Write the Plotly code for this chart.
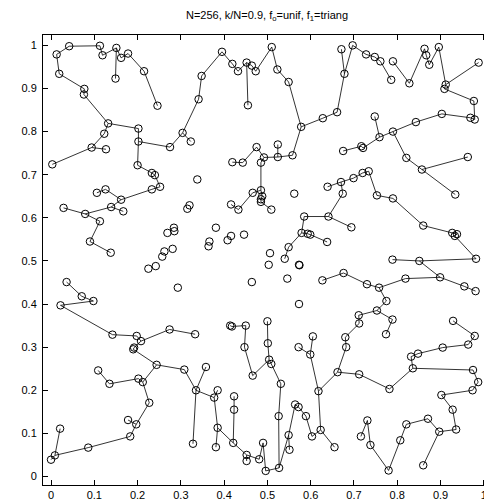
import plotly.graph_objects as go

# ---- point coordinates, grouped by region of the unit square ----
A_ids = "A1 A2 A3 A4 A5 A6 A7 A8 A9 A10 A11 A12 A13 A14 A15 A16 A17 A18 A19 A20 A21 A22 A23 A24 A25".split()
A_x = [0.042, 0.013, 0.019, 0.113, 0.119, 0.151, 0.149, 0.162, 0.178, 0.215, 0.246, 0.077, 0.076, 0.132, 0.202,
       0.202, 0.275, 0.304, 0.123, 0.094, 0.127, 0.003, 0.200, 0.233, 0.240]
A_y = [0.998, 0.979, 0.934, 0.999, 0.977, 0.994, 0.923, 0.971, 0.981, 0.940, 0.860, 0.899, 0.886, 0.819, 0.807,
       0.777, 0.764, 0.797, 0.795, 0.763, 0.759, 0.724, 0.722, 0.704, 0.699]

B_ids = "B2 B3 B4 B5 B6 B7 B8 B9 B10 B11 B12 B13 B14 B15 B16 B17 B18 B19 B20 B21 B22 B23 B24 B25".split()
B_x = [0.323, 0.341, 0.348, 0.395, 0.419, 0.432, 0.452, 0.464, 0.473, 0.455, 0.510, 0.523, 0.549, 0.578, 0.628,
       0.558, 0.524, 0.524, 0.492, 0.485, 0.475, 0.443, 0.419, 0.338]
B_y = [0.777, 0.875, 0.929, 0.985, 0.957, 0.940, 0.960, 0.953, 0.940, 0.861, 0.996, 0.944, 0.915, 0.811, 0.831,
       0.745, 0.741, 0.770, 0.740, 0.728, 0.764, 0.728, 0.729, 0.689]

C_ids = ("C1 C2 C3 C4 C5 C6 C7 C8 C9 C10 C11 C12 C13 C14 C15 C16 C17 C18 C19 C20 C21 C22 C23 C24 C25 C26 C27 "
         "C28 C29 C30 C31 C32 C33 C34 C35 C36").split()
C_x = [0.671, 0.697, 0.678, 0.728, 0.748, 0.761, 0.790, 0.786, 0.828, 0.863, 0.867, 0.874, 0.896, 0.912, 0.909,
       0.988, 0.977, 0.969, 0.979, 0.903, 0.843, 0.790, 0.759, 0.748, 0.721, 0.717, 0.675, 0.821, 0.857, 0.963,
       0.734, 0.720, 0.699, 0.670, 0.639, 0.661]
C_y = [0.991, 1.000, 0.934, 0.979, 0.973, 0.963, 0.963, 0.920, 0.912, 0.992, 0.977, 0.955, 0.996, 0.909, 0.899,
       0.960, 0.871, 0.832, 0.828, 0.841, 0.822, 0.800, 0.787, 0.835, 0.762, 0.766, 0.755, 0.739, 0.712, 0.741,
       0.708, 0.704, 0.692, 0.683, 0.672, 0.845]

D_ids = ("D2 D3 D4 D5 D6 D7 D8 D9 D10 D11 D12 D13 D14 D15 D16 D17 D19 D20 D21 D22 D23 D24 D25 D26 D27 D28").split()
D_x = [0.106, 0.126, 0.162, 0.233, 0.252, 0.029, 0.079, 0.139, 0.167, 0.113, 0.090, 0.138, 0.036, 0.071, 0.098,
       0.022, 0.269, 0.284, 0.285, 0.281, 0.262, 0.257, 0.242, 0.225, 0.293, 0.274]
D_y = [0.658, 0.666, 0.642, 0.666, 0.672, 0.623, 0.609, 0.625, 0.615, 0.592, 0.545, 0.519, 0.451, 0.418, 0.407,
       0.397, 0.565, 0.577, 0.569, 0.528, 0.522, 0.510, 0.488, 0.482, 0.438, 0.341]

E_ids = ("E2 E3 E4 E5 E6 E7 E8 E9 E10 E12 E13 E15 E16 E17 E18 E19 E20 E21 E23 E24 E25 E27 E28 E29 E30 E31 E31b "
         "E32 E33 E36 E37 E38 E39 E40").split()
E_x = [0.485, 0.466, 0.488, 0.485, 0.485, 0.509, 0.416, 0.433, 0.562, 0.320, 0.315, 0.381, 0.416, 0.408, 0.446,
       0.366, 0.364, 0.585, 0.579, 0.593, 0.599, 0.549, 0.540, 0.506, 0.503, 0.573, 0.574, 0.464, 0.546, 0.573,
       0.414, 0.418, 0.450, 0.500]
E_y = [0.664, 0.658, 0.650, 0.643, 0.637, 0.619, 0.631, 0.619, 0.656, 0.629, 0.621, 0.577, 0.558, 0.548, 0.561,
       0.545, 0.534, 0.603, 0.565, 0.563, 0.561, 0.532, 0.505, 0.518, 0.491, 0.491, 0.490, 0.451, 0.459, 0.400,
       0.350, 0.348, 0.350, 0.360]

F_ids = ("F4 F5 F6 F7 F8 F9 F10 F11 F12 F13 F14 F15 F16 F17 F18 F19 F20 F21 F22 F23 F24 F25 F26 F27 F28 F29 F30 "
         "F31").split()
F_x = [0.674, 0.641, 0.694, 0.753, 0.790, 0.860, 0.927, 0.938, 0.933, 0.934, 0.982, 0.789, 0.851, 0.899, 0.955,
       0.981, 0.819, 0.758, 0.730, 0.676, 0.627, 0.775, 0.753, 0.711, 0.712, 0.789, 0.929, 0.638]
F_y = [0.656, 0.603, 0.578, 0.652, 0.645, 0.582, 0.565, 0.562, 0.558, 0.654, 0.505, 0.503, 0.500, 0.462, 0.441,
       0.430, 0.459, 0.438, 0.446, 0.472, 0.455, 0.407, 0.385, 0.374, 0.355, 0.364, 0.361, 0.544]

G_ids = "G1 G2 G3 G4 G5 G7 G8 G9 G10 G11 G12 G13 G14 G15 G16 G17 G18 G19 G20".split()
G_x = [0.142, 0.198, 0.208, 0.192, 0.190, 0.244, 0.308, 0.109, 0.135, 0.202, 0.212, 0.227, 0.178, 0.197, 0.183,
       0.086, 0.009, 0.000, 0.021]
G_y = [0.329, 0.326, 0.314, 0.299, 0.295, 0.259, 0.248, 0.246, 0.215, 0.227, 0.219, 0.171, 0.131, 0.121, 0.093,
       0.067, 0.049, 0.039, 0.111]

H_ids = ("H1 H4 H5 H7 H8 H9 H10 H11 H12 H13 H14 H15 H16 H17 H18 H19 H20 H21 H22 H23 H24 H25 H27 H28 H29 H30 "
         "H31 H32 H33 H34 H35 H36 H37 H38 H39").split()
H_x = [0.333, 0.447, 0.466, 0.501, 0.504, 0.509, 0.531, 0.526, 0.527, 0.496, 0.490, 0.481, 0.452, 0.452, 0.421,
       0.423, 0.423, 0.385, 0.381, 0.377, 0.385, 0.335, 0.358, 0.328, 0.605, 0.572, 0.599, 0.618, 0.623, 0.603,
       0.564, 0.572, 0.589, 0.549, 0.551]
H_y = [0.330, 0.300, 0.234, 0.309, 0.271, 0.261, 0.215, 0.140, 0.020, 0.013, 0.078, 0.040, 0.050, 0.036, 0.078,
       0.155, 0.186, 0.113, 0.068, 0.183, 0.200, 0.200, 0.254, 0.076, 0.325, 0.300, 0.283, 0.198, 0.108, 0.093,
       0.167, 0.161, 0.140, 0.096, 0.062]

I_ids = ("I2 I3 I4 I5 I6 I7 I8 I9 I10 I11 I12 I14 I15 I16 I17 I18 I19 I20 I21 I22 I23 I24 I25 I26 I27 I28 I29 "
         "I31").split()
I_x = [0.680, 0.682, 0.662, 0.712, 0.782, 0.836, 0.832, 0.848, 0.905, 0.964, 0.979, 0.975, 0.987, 0.974, 0.902,
       0.928, 0.936, 0.897, 0.871, 0.821, 0.807, 0.780, 0.738, 0.731, 0.716, 0.860, 0.774, 0.655]
I_y = [0.323, 0.300, 0.242, 0.237, 0.203, 0.251, 0.278, 0.285, 0.299, 0.306, 0.326, 0.247, 0.219, 0.200, 0.189,
       0.155, 0.109, 0.104, 0.134, 0.121, 0.084, 0.014, 0.073, 0.130, 0.093, 0.026, 0.330, 0.068]

# ---- links between points ----
edges = """
A2-A1 A1-A4 A4-A5 A5-A6 A6-A7 A6-A8 A8-A9 A9-A10 A10-A11 A2-A3 A3-A12 A12-A13 A13-A14 A14-A15 A15-A16 A16-A17
A17-A18 A14-A19 A19-A20 A20-A21 A20-A22 A16-A23 A23-A24 A24-A25 A25-D6
A18-B2 A18-B3 B3-B4 B4-B5 B5-B6 B6-B7 B7-B8 B8-B9 B9-B10 B8-B11 B10-B12 B12-B13 B13-B14 B14-B15 B15-B16 B15-B17
B17-B18 B18-B19 B18-B20 B20-B21 B20-B22 B22-B23 B23-B24 B21-E2
C1-C3 C2-C3 C2-C4 C4-C5 C5-C6 C6-C8 C7-C9 C9-C10 C10-C11 C11-C12 C12-C13 C13-C14 C14-C15 C14-C16 C15-C17 C17-C19
C19-C18 C18-C20 C20-C21 C21-C22 C22-C23 C22-C28 C28-C29 C29-C30 C29-F13 C23-C24 C23-C25 C25-C26 C26-C27 C35-C34
C34-C33 C33-C32 C32-C31 C31-F7 C36-B16 C36-C3
D6-D5 D5-D4 D4-D3 D3-D2 D4-D9 D9-D10 D9-D8 D8-D7 D8-D11 D11-D12 D12-D13 D14-D15 D15-D16 D16-D17 D17-G1
E2-E3 E2-E4 E4-E5 E5-E6 E6-E7 E3-E9 E9-E8 E21-F5 E21-E23 E23-E24 E24-E25 E25-F31 E23-E27 E27-E28 E37-E38 E38-E39
E40-H7
C34-F4 F4-F5 F5-F6 F7-F8 F8-F9 F9-F10 F10-F11 F11-F12 F12-F14 F14-F16 F15-F16 F16-F17 F17-F18 F18-F19 F17-F20
F20-F21 F21-F22 F22-F23 F23-F24 F21-F25 F25-F26 F26-F27 F27-F28 F26-F29 F29-I29 F28-I2 F30-I12
G1-G2 G2-G3 G3-D28 G3-G4 G4-G5 G5-G7 G7-G8 G7-G12 G12-G11 G11-G10 G10-G9 G12-G13 G13-G15 G15-G14 G15-G16 G16-G17
G17-G18 G18-G19 G18-G20 D28-H1 G8-H25
E39-H4 H4-H5 H5-H8 H7-H8 H8-H9 H9-H10 H10-H11 H11-H12 H12-H13 H13-H14 H14-H15 H15-H16 H16-H17 H16-H18 H18-H21
H21-H22 H21-H23 H23-H24 H23-H25 H25-H27 H25-H28 H18-H19 H19-H20 H12-H38 H38-H39 H38-H35 H35-H36 H36-H37 H37-H34
H34-H33 H33-H32 H32-H31 H31-H29 H31-H30 H33-I31 H32-I4
I2-I3 I3-I4 I4-I5 I5-I6 I6-I7 I7-I8 I8-I9 I9-I10 I10-I11 I11-I12 I7-I14 I14-I15 I15-I16 I16-I17 I17-I18 I18-I19
I19-I20 I20-I21 I21-I22 I22-I23 I23-I24 I24-I25 I25-I26 I26-I27 I20-I28
""".split()

title_text = "N=256, k/N=0.9, f<sub>o</sub>=unif, f<sub>1</sub>=triang"
tick_vals = [0, 0.1, 0.2, 0.3, 0.4, 0.5, 0.6, 0.7, 0.8, 0.9, 1]
tick_text = ["0", "0.1", "0.2", "0.3", "0.4", "0.5", "0.6", "0.7", "0.8", "0.9", "1"]

ids = A_ids + B_ids + C_ids + D_ids + E_ids + F_ids + G_ids + H_ids + I_ids
xs = A_x + B_x + C_x + D_x + E_x + F_x + G_x + H_x + I_x
ys = A_y + B_y + C_y + D_y + E_y + F_y + G_y + H_y + I_y
pos = {k: (x, y) for k, x, y in zip(ids, xs, ys)}

ex, ey = [], []
for e in edges:
    a, b = e.split("-")
    ex += [pos[a][0], pos[b][0], None]
    ey += [pos[a][1], pos[b][1], None]

fig = go.Figure()
fig.add_trace(go.Scatter(x=ex, y=ey, mode="lines", line=dict(color="black", width=0.8),
                         hoverinfo="skip", showlegend=False))
fig.add_trace(go.Scatter(x=xs, y=ys, mode="markers",
                         marker=dict(symbol="circle-open", size=7.5, color="black", line=dict(width=1)),
                         showlegend=False))

font = dict(family="Liberation Sans, Arial, Helvetica, sans-serif", size=11, color="black")
axis_common = dict(tickmode="array", tickvals=tick_vals, ticktext=tick_text, ticks="inside", ticklen=5,
                   tickwidth=1, tickcolor="black", showline=True, linecolor="black", linewidth=1,
                   mirror="ticks", showgrid=False, zeroline=False, tickfont=font, automargin=False)

# The page body adds an 8 px offset, so the figure is sized to fit the 492x501 window from there.
fig.update_layout(
    width=484, height=493,
    margin=dict(l=35, r=1, t=27, b=16, pad=0),
    paper_bgcolor="white", plot_bgcolor="white",
    showlegend=False,
    title=dict(text=title_text, x=0.5, xref="paper", xanchor="center",
               y=1 - 7 / 493, yref="container", yanchor="middle", font=font),
    xaxis=dict(range=[-0.0185, 1.0166], ticklabelstandoff=0, **axis_common),
    yaxis=dict(range=[-0.0197, 1.024], ticklabelstandoff=3, **axis_common),
)

fig.write_html("out.html")
